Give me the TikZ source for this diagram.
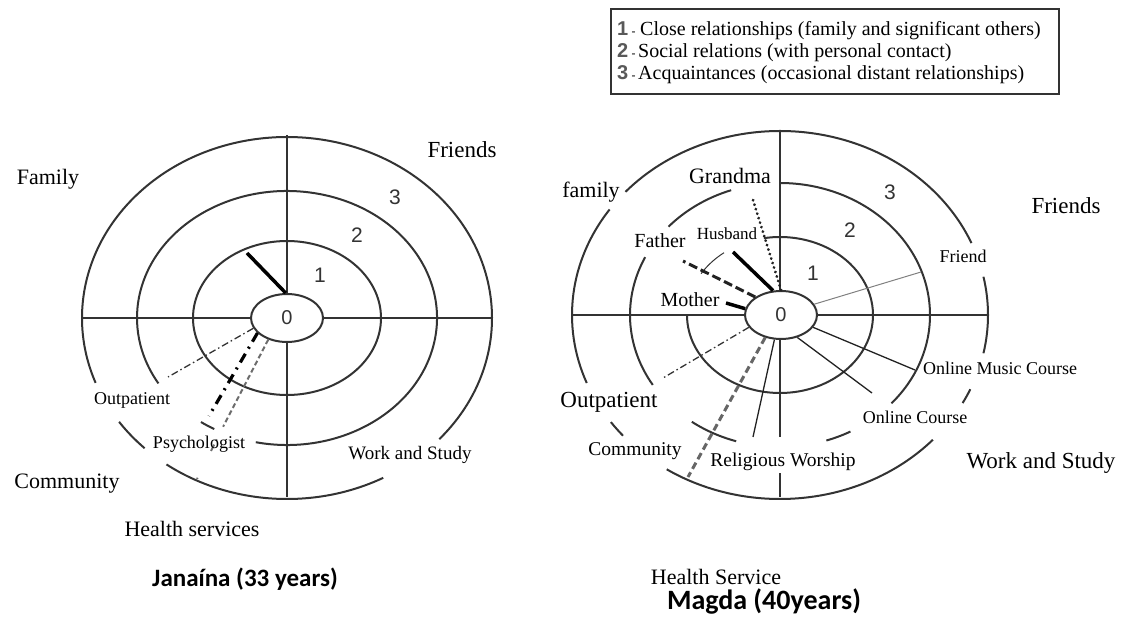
\documentclass[tikz,border=0pt]{standalone}
\usepackage{fontspec}
\setmainfont{Liberation Serif}
\newfontfamily\numfont{Liberation Sans}
\newfontfamily\titlefont{Carlito}
\usetikzlibrary{shapes.geometric}
\definecolor{ink}{HTML}{333333}
\definecolor{ink2}{HTML}{222222}
\newcommand\myarc[7][]{\pgfmathsetmacro\arcA{-(#6)}\pgfmathsetmacro\arcB{-(#7)}\draw[ring,#1] (#2,#3) ++(\arcA:#4 and #5) arc[start angle=\arcA, end angle=\arcB, x radius=#4, y radius=#5];}
\newcommand\fs[1]{\fontsize{#1}{#1}\selectfont}
\begin{document}
\begin{tikzpicture}[x=1pt,y=-1pt,
  ring/.style={draw=ink, line width=2pt},
  axis/.style={draw=ink, line width=2pt},
  zero/.style={ellipse, draw=ink, line width=2pt, fill=white, minimum width=72pt, minimum height=48pt, inner sep=0pt, font=\numfont\fs{20}, text=ink},
  num/.style={font=\numfont\fs{21}, text=ink, inner sep=0pt},
  lbl/.style={font=\fs{#1}, inner sep=0pt, anchor=base, text=black},
  lbl/.default=22,
  thickline/.style={line width=3.5pt, black},
  thinline/.style={line width=1.3pt, ink2},
  dashdotthin/.style={line width=1.3pt, ink, dash pattern=on 7pt off 3pt on 1.5pt off 3pt},
  dashdotthick/.style={line width=3.2pt, black, dash pattern=on 10pt off 6pt on 2pt off 6pt},
  graydashL/.style={line width=2pt, gray!85!black, dash pattern=on 5pt off 3pt},
  graydashR/.style={line width=3pt, gray!80!black, dash pattern=on 7pt off 4pt},
  fatherdash/.style={line width=3pt, ink2, dash pattern=on 9pt off 4pt},
  granddot/.style={line width=3pt, ink2, line cap=round, dash pattern=on 0.1pt off 4.6pt},
  friendline/.style={line width=1pt, gray},
  title/.style={font=\titlefont\bfseries\fs{#1}, inner sep=0pt, anchor=base}
]
\useasboundingbox (0,0) rectangle (1122,617);

%================ LEFT DIAGRAM ================
\draw[axis] (82,318) -- (492,318);
\draw[axis] (287,135) -- (287,497);
\draw[ring] (287,318) ellipse [x radius=94, y radius=77];
\myarc{287}{318}{150}{127}{-102}{211}
\myarc{287}{318}{150}{127}{235}{241}
\myarc{287}{318}{205}{181}{-42}{201}
\myarc{287}{318}{205}{181}{215}{226}
\myarc{287}{318}{205}{181}{234}{298}
\node[zero] (L0) at (287,318) {0};

\coordinate (LfamE) at (247,253);
\coordinate (LoutE) at (168,377);
\coordinate (LpsyE) at (209,416);
\coordinate (LhsE) at (224,425);
\coordinate (LhsF) at (197,479);
\draw[thickline] (L0.93) -- (LfamE);
\draw[dashdotthin] (L0.197) -- (LoutE);
\draw[dashdotthick] (L0.207) -- (LpsyE);
\draw[graydashL] (L0.229) -- (LhsE);
\draw[line width=2pt, gray!85!black, dash pattern=on 2pt off 14pt on 2pt off 4pt on 7pt off 30pt] (LhsE) -- (LhsF);

\node[num] (L1) at (320,275) {1};
\node[num] (L2) at (357,235) {2};
\node[num] (L3) at (395,197) {3};

\node[lbl] (Lfamily) at (48,185) {Family};
\node[lbl=23] (Lfriends) at (462,158) {Friends};
\node[lbl=18] (Loutp) at (132,405) {Outpatient};
\node[lbl=18] (Lpsy) at (199,448) {Psychologist};
\node[lbl=19] (Lwork) at (410,459) {Work and Study};
\node[lbl] (Lcomm) at (67,488) {Community};
\node[lbl] (Lhealth) at (192,536) {Health services};
\node[title=25] (Ltitle) at (245,586) {Janaína (33 years)};

%================ RIGHT DIAGRAM ================
\draw[axis] (572,315) -- (988,315);
\draw[axis] (780,131) -- (780,437);
\draw[axis] (780,473) -- (780,497);
\myarc{780}{315}{93}{78}{180}{460}
\myarc[line width=1pt]{780}{315}{93}{78}{127}{148}
\myarc{780}{315}{150}{132}{-42}{90}
\myarc{780}{315}{150}{132}{-72}{-62}
\myarc{780}{315}{150}{132}{234}{253}
\myarc{780}{315}{150}{132}{154}{212}
\myarc{780}{315}{150}{132}{109}{138}
\myarc{780}{315}{208}{184}{23}{138}
\myarc{780}{315}{208}{184}{145}{201.7}
\myarc{780}{315}{208}{184}{215.6}{221}
\myarc{780}{315}{208}{184}{237}{317.3}
\myarc{780}{315}{208}{184}{-28.6}{-23.8}
\myarc{780}{315}{208}{184}{-12}{12}
\node[zero] (R0) at (781,315) {0};

\coordinate (RgmaE) at (753,200);
\coordinate (RhusE) at (733,252);
\coordinate (RfatE) at (683,261);
\coordinate (RmotE) at (726,303);
\coordinate (RoutE) at (663,378);
\coordinate (RhsE) at (688,477);
\coordinate (RrelE) at (753,437);
\coordinate (RocE) at (872,393);
\coordinate (RomcE) at (915,370);
\coordinate (RfrE) at (921,272);
\draw[granddot] (R0.90) -- (RgmaE);
\draw[thickline] (R0.108) -- (RhusE);
\draw[fatherdash] (R0.145) -- (RfatE);
\draw[thickline] (R0.170) -- (RmotE);
\draw[dashdotthin] (R0.201) -- (RoutE);
\draw[graydashR] (R0.235) -- (RhsE);
\draw[thinline] (R0.255) -- (RrelE);
\draw[thinline] (R0.306) -- (RocE);
\draw[thinline] (R0.339) -- (RomcE);
\draw[friendline] (R0.18) -- (RfrE);

\node[num] (R1) at (813,273) {1};
\node[num] (R2) at (850,230) {2};
\node[num] (R3) at (890,192) {3};

\node[lbl] (Rfamily) at (591,198) {family};
\node[lbl] (Rgrandma) at (730,184) {Grandma};
\node[lbl=20] (Rfather) at (660,248) {Father};
\node[lbl=17] (Rhusband) at (727,240) {Husband};
\node[lbl=20] (Rmother) at (690,307) {Mother};
\node[lbl=18] (Rfriend) at (963,263) {Friend};
\node[lbl=23] (Rfriends) at (1066,214) {Friends};
\node[lbl=18] (Romc) at (1000,375) {Online Music Course};
\node[lbl=18] (Roc) at (915,424) {Online Course};
\node[lbl=23] (Rwork) at (1041,468) {Work and Study};
\node[lbl=19.5] (Rrel) at (783,467) {Religious Worship};
\node[lbl=23] (Routp) at (609,408) {Outpatient};
\node[lbl=19.5] (Rcomm) at (635,456) {Community};
\node[lbl] (Rhealth) at (716,584) {Health Service};
\node[title=28] (Rtitle) at (764,609) {Magda (40years)};

%================ LEGEND ================
\node[draw=ink, line width=2.4pt, minimum width=448pt, minimum height=85pt, anchor=north west, inner sep=0pt] (legend) at (610,8) {};
\node[anchor=base west, inner sep=0pt, font=\numfont\bfseries\fs{20}, text=gray!70!black] (k1) at (617,36) {1\,\fs{12}-};
\node[anchor=base west, inner sep=0pt, font=\fs{20}] (t1) at (640,36) {Close relationships (family and significant others)};
\node[anchor=base west, inner sep=0pt, font=\numfont\bfseries\fs{20}, text=gray!70!black] (k2) at (617,58) {2\,\fs{12}-};
\node[anchor=base west, inner sep=0pt, font=\fs{20}] (t2) at (638,58) {Social relations (with personal contact)};
\node[anchor=base west, inner sep=0pt, font=\numfont\bfseries\fs{20}, text=gray!70!black] (k3) at (617,80) {3\,\fs{12}-};
\node[anchor=base west, inner sep=0pt, font=\fs{20}] (t3) at (638,80) {Acquaintances (occasional distant relationships)};
\end{tikzpicture}
\end{document}
